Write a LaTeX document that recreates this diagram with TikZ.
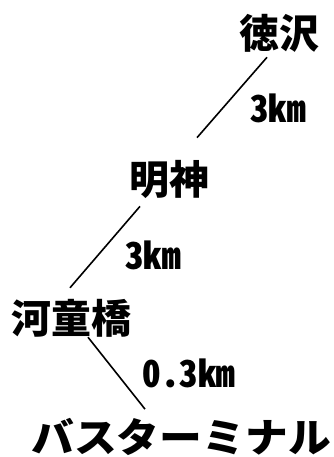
\documentclass[tikz,border=0pt]{standalone}
\usepackage{fontspec}
\newfontfamily\jpfont{Noto Sans CJK JP}[CharacterWidth=Half]
\tikzset{
  stop/.style={font=\jpfont\bfseries\fontsize{40}{40}\selectfont, inner sep=0pt},
  dist/.style={font=\jpfont\bfseries\fontsize{37}{37}\selectfont, inner sep=0pt},
  road/.style={line width=1.6pt}
}
\begin{document}
\begin{tikzpicture}[x=1pt, y=-1pt]
    \useasboundingbox (0,0) rectangle (333,457);
    % stops
    \node [stop] (toku) at (279,33) {徳沢};
    \node [stop] (myo) at (169,179) {明神};
    \node [stop] (kappa) at (71,318) {河童橋};
    \node [stop, xscale=1.07] (bus) at (181,437) {バスターミナル};
    % distances
    \node [dist] (d1) at (278,108) {3km};
    \node [dist] (d2) at (153,255) {3km};
    \node [dist] (d3) at (189,373) {0.3km};
    % roads
    \draw [road] ([shift={(-12,5)}]toku.south) -- ([shift={(28,-22)}]myo.north);
    \draw [road] ([shift={(-29,8)}]myo.south) -- ([shift={(-1,-11)}]kappa.north);
    \draw [road] ([shift={(17,0)}]kappa.south) -- ([shift={(-36,-9)}]bus.north);
\end{tikzpicture}
\end{document}
